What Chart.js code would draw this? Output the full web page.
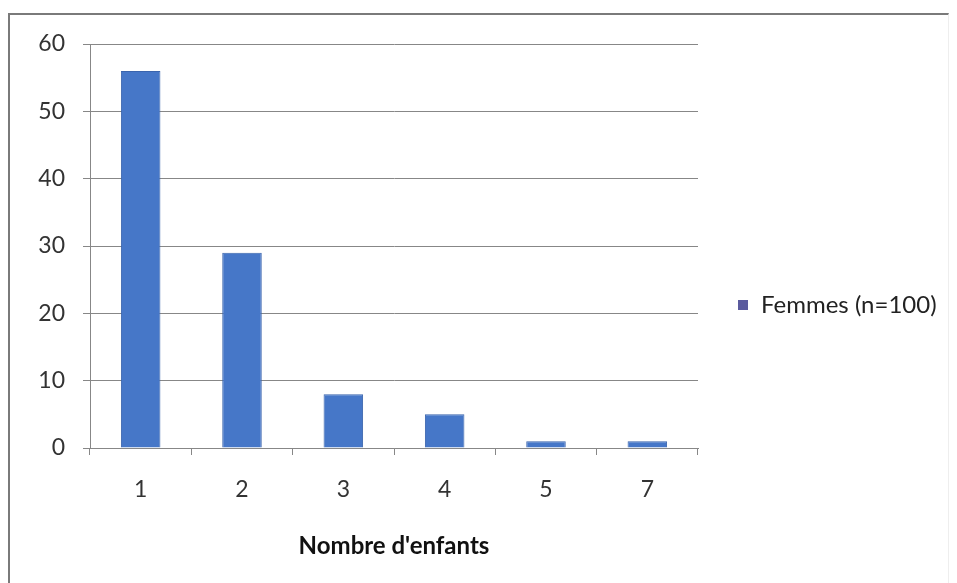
<!DOCTYPE html>
<html>
<head>
<meta charset="utf-8">
<script src="https://cdn.jsdelivr.net/npm/chart.js@4"></script>
<style>
  html, body { margin: 0; padding: 0; background: #fff; }
  #wrap { position: relative; width: 957px; height: 583px; overflow: hidden; }
  #frame { position: absolute; left: 8px; top: 13px; width: 938px; height: 580px;
    border-left: 2px solid #7a7a7a; border-top: 2px solid #7a7a7a; border-right: 1px solid #eeeeee; }
  #chart { position: absolute; left: 0; top: 0; }
  #legend { position: absolute; left: 738px; top: 289px; font-family: Lato, sans-serif;
    font-size: 24px; color: #222; white-space: nowrap; }
  #legend .box { display: inline-block; width: 10px; height: 10px; background: #5b5b9e;
    margin-right: 13px; vertical-align: middle; position: relative; top: -2px; }
</style>
</head>
<body>
<div id="wrap">
  <div id="frame"></div>
  <canvas id="chart" width="957" height="583"></canvas>
  <div id="legend"><span class="box"></span><span id="legend-text"></span></div>
</div>
<script>
const categories = ['1', '2', '3', '4', '5', '7'];
const femmes = [56, 29, 8, 5, 1, 1];
const seriesLabel = 'Femmes (n=100)';
const axisTitle = "Nombre d'enfants";

document.getElementById('legend-text').textContent = seriesLabel;

const gridColor = '#878787';
const tickFont = { family: 'Lato', size: 23 };

const ctx = document.getElementById('chart').getContext('2d');
const chart = new Chart(ctx, {
  type: 'bar',
  data: {
    labels: categories,
    datasets: [{
      label: seriesLabel,
      data: femmes,
      backgroundColor: '#4677c8',
      borderColor: '#3a64ad',
      borderWidth: 1,
      barPercentage: 0.39,
      categoryPercentage: 1,
    }],
  },
  options: {
    responsive: false,
    animation: false,
    layout: { padding: { top: 44, right: 259, left: 0, bottom: 0 } },
    plugins: {
      legend: { display: false },
      tooltip: { enabled: false },
    },
    scales: {
      x: {
        grid: { drawOnChartArea: false, drawTicks: true, tickLength: 7, color: gridColor, offset: true },
        border: { display: true, color: gridColor },
        ticks: { font: tickFont, color: '#333', padding: 21 },
        title: { display: true, text: axisTitle, color: '#111',
          font: { family: 'Lato', size: 24, weight: 'bold' }, padding: { top: 0, bottom: 22 } },
        afterFit: (scale) => { scale.height = 135; },
      },
      y: {
        min: 0,
        max: 60,
        ticks: { stepSize: 10, font: tickFont, color: '#333', padding: 18 },
        grid: { color: gridColor, tickLength: 7 },
        border: { display: true, color: gridColor },
        afterFit: (scale) => { scale.width = 90; },
      },
    },
  },
});
</script>
</body>
</html>
